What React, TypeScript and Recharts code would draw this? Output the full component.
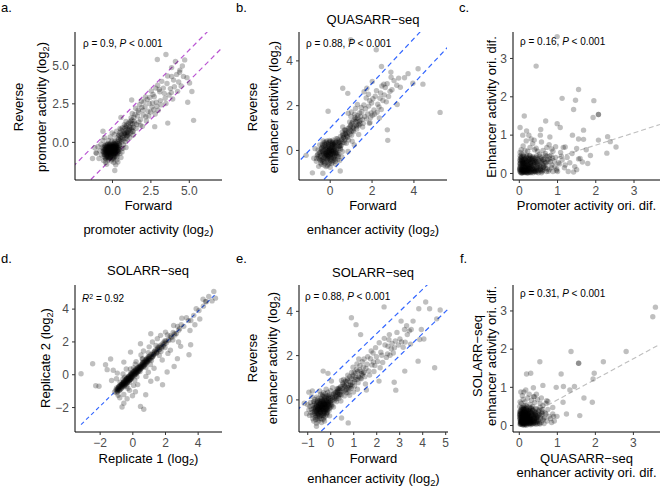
import React from 'react';
import { ScatterChart, Scatter, XAxis, YAxis, ReferenceLine } from 'recharts';

type Pt = [number, number];

// a. promoter activity, forward vs reverse (log2)
const promoterCore: Pt[] = [
  [-0.12,-0.45],[-0.31,-0.62],[0.05,-0.28],[-0.22,-0.81],[0.14,-0.51],[-0.41,-0.35],[0.02,-0.72],[-0.18,-0.15],[0.27,-0.33],[-0.35,-0.94],
  [-0.08,-0.58],[0.21,-0.12],[-0.27,-0.48],[0.09,-0.88],[-0.46,-0.66],[0.33,-0.55],[-0.15,-1.02],[0.11,-0.21],[-0.03,-0.39],[-0.52,-0.21],
  [0.18,-0.68],[-0.24,-0.29],[0.38,-0.08],[-0.06,-0.84],[-0.37,-0.53],[0.07,-0.05],[-0.19,-0.71],[0.25,-0.42],[-0.44,-1.08],[-0.01,-0.61],
  [0.15,-0.95],[-0.29,-0.08],[0.42,-0.31],[-0.11,-0.32],[-0.56,-0.78],[0.04,-0.47],[-0.21,-0.55],[0.31,-0.79],[-0.33,-0.25],[0.12,-0.36],
  [-0.05,-0.15],[-0.48,-0.44],[0.22,-0.24],[-0.14,-0.89],[0.36,-0.62],[-0.26,-1.15],[0.01,-0.98],[-0.39,-0.71],[0.17,0.04],[-0.09,-0.68],
  [0.47,-0.17],[-0.61,-0.58],[0.08,-0.63],[-0.17,-0.42],[0.29,-0.95],[-0.32,-0.41],[-0.02,-0.26],[0.19,-0.38],[-0.43,-0.12],[0.11,-0.77],
  [-0.23,-0.64],[0.34,-0.21],[-0.07,-1.21],[-0.54,-0.95],[0.23,-0.57],[-0.13,-0.05],[0.06,-1.11],[-0.36,-0.81],[0.41,-0.48],[-0.2,-0.33],
  [0.52,0.11],[-0.66,-0.31],[0.16,-0.16],[-0.1,-0.52],[0.28,-1.12],[-0.47,-0.61],[0.03,-0.35],[-0.28,-0.97],[0.13,0.15],[-0.16,-0.22],
  [0.58,-0.41],[-0.71,-0.82],[0.38,0.21],[-0.04,0.08],[0.24,-0.73],[-0.58,-1.18],[0.48,-0.72],[-0.25,0.12],[0.09,-1.31],[-0.82,-0.55],
  [-0.95,-0.28],[-1.05,-0.71],[0.66,0.32],[0.72,-0.15],[-0.62,0.14],[0.55,-0.98],[-0.38,-1.42],[0.21,-1.45],[-0.88,-1.05],[0.84,0.05],
  [0.44,0.46],[-0.15,0.35],[0.62,-0.62],[-0.75,-0.12],[0.76,0.58],[0.92,0.41],[0.35,-1.28],[-0.52,0.31],[0.12,0.51],[-1.15,-0.35],
  [0.68,-0.38],[-0.02,0.62],[0.88,-0.33],[-0.45,-1.31],[0.27,0.72],
  [-0.27,-0.68],[0.12,-0.24],[-0.41,-0.82],[0.03,-0.53],[-0.19,-0.39],[0.26,-0.19],[-0.53,-0.49],[-0.07,-0.71],[0.18,-0.44],[-0.34,-0.15],
  [0.08,-1.01],[-0.22,-0.58],[0.37,-0.38],[-0.46,-1.02],[-0.13,-0.27],[0.21,-0.82],[-0.38,-0.46],[0.01,-0.17],[-0.28,-0.88],[0.14,-0.62],
  [-0.04,-0.49],[-0.57,-0.64],[0.29,-0.51],[-0.16,-0.76],[-0.33,-0.34],[0.06,-0.31],[-0.24,-1.07],[0.43,-0.22],[-0.11,-0.93],[-0.45,-0.26],
  [0.17,-0.34],[-0.29,-0.52],[0.02,-0.83],[-0.2,-0.22],[0.32,-0.69],[-0.5,-0.81],[-0.09,-0.42],[0.24,-0.07],[-0.37,-0.67],[0.1,-0.55],
  [-0.15,-0.62],[-0.42,-0.19],[0.35,-0.45],[-0.03,-1.06],[-0.26,-0.32],[0.13,-0.09],[-0.6,-0.42],[0.04,-0.66],[-0.31,-0.74],[0.22,-0.63],
  [-0.12,-0.36],[-0.48,-0.53],[0.27,-0.28],[-0.18,-0.98],[0.07,-0.41],[-0.35,-0.58],[0.45,-0.04],[-0.06,-0.24],[-0.23,-0.47],[0.15,-0.74],
  [-0.4,-0.93],[0.0,-0.57],[-0.17,-0.13],[0.3,-0.36],[-0.55,-0.34],[-0.08,-0.79],[0.19,-0.52],[-0.3,-1.0],[0.11,-0.14],[-0.21,-0.69],
  [0.4,-0.6],[-0.44,-0.48],[-0.01,-0.3],[-0.25,-0.42],[0.09,-0.72],[-0.36,-0.29],[0.2,-0.29],[-0.1,-0.59],[-0.52,-0.7],[0.05,-0.46],
];
const promoterRise: Pt[] = [
  [0.52,0.31],[0.71,0.42],[0.63,0.75],[0.95,0.66],[0.44,0.12],[0.81,0.91],[1.12,1.02],[0.58,0.52],[0.99,0.85],[0.37,0.35],
  [1.23,0.82],[0.69,0.18],[0.86,0.55],[1.31,1.19],[0.48,0.64],[1.05,0.74],[0.77,1.15],[1.18,0.62],[0.61,0.03],[0.92,1.12],
  [1.37,0.99],[0.55,0.84],[0.83,0.26],[1.09,1.31],[0.42,0.47],[1.26,1.45],[0.74,0.68],[0.97,0.42],[0.65,0.95],[1.15,0.93],
  [0.33,0.05],[0.88,0.79],[1.41,1.38],[0.57,0.22],[1.02,0.55],[0.79,0.48],[1.2,1.21],[0.49,0.91],[0.9,0.99],[1.33,0.71],
];
const promoterBand: Pt[] = [
  [1.07,0.52],[0.83,1.04],[1.46,1.81],[2.31,2.02],[1.19,1.37],[0.94,0.21],[1.72,1.33],[2.64,3.11],[1.33,0.72],[2.05,2.63],
  [3.12,2.71],[1.58,1.16],[0.77,0.58],[2.48,1.97],[1.91,2.27],[3.55,3.82],[1.26,0.95],[2.89,2.34],[1.67,2.08],[4.03,3.61],
  [2.17,1.66],[1.02,1.21],[3.31,3.52],[1.83,1.49],[2.72,2.96],[1.39,1.62],[3.86,4.27],[2.26,2.79],[0.98,0.63],[3.04,3.43],
  [1.54,0.91],[2.57,2.29],[4.31,3.92],[1.13,0.31],[2.01,1.78],[3.68,3.07],[1.77,2.44],[2.94,3.71],[0.88,1.36],[2.39,2.52],
  [3.43,2.86],[1.62,1.71],[4.18,4.41],[2.12,2.31],[1.29,1.88],[3.21,3.96],[2.78,1.84],[1.95,1.04],[3.77,3.49],[2.53,3.34],
  [1.44,1.24],[4.47,3.66],[2.85,2.61],[1.09,0.86],[3.16,2.43],[2.21,1.39],[3.98,4.04],[1.71,1.95],[2.68,2.12],[3.59,4.31],
  [1.35,0.48],[2.43,2.91],[1.88,2.68],[3.37,3.18],[4.62,4.28],[2.98,2.08],[1.51,2.21],[3.83,3.23],[2.36,1.71],[4.24,3.31],
  [3.08,3.28],[2.15,2.95],[1.21,1.58],[3.48,2.52],[2.61,2.55],[1.81,1.12],[4.39,4.69],[2.82,3.52],[3.92,2.81],[1.98,2.09],
];
const promoterOutliers: Pt[] = [
  [5.28,1.43],[3.48,5.7],[4.37,4.55],[5.17,3.3],[2.92,5.38],[4.1,5.25],[4.55,4.95],[4.85,4.2],[5.02,3.85],[4.9,2.6],
  [3.6,1.25],[2.75,1.02],[1.25,2.75],[0.55,1.62],[-1.07,-0.67],[-1.3,-1.05],[0.15,-1.82],[-0.62,0.72],[4.7,5.35],[3.85,4.85],
];

// b. QUASARR-seq enhancer activity, forward vs reverse (log2)
const quasarrCore: Pt[] = [
  [-0.12,-0.08],[0.05,0.04],[-0.25,-0.21],[0.14,-0.12],[-0.06,0.18],[-0.31,0.05],[0.22,0.11],[-0.18,-0.35],[0.01,-0.22],[-0.38,-0.15],
  [0.11,0.27],[-0.09,-0.01],[0.28,-0.06],[-0.22,0.14],[-0.02,-0.41],[0.18,-0.28],[-0.44,-0.32],[0.07,0.15],[-0.15,0.31],[0.33,0.24],
  [-0.28,-0.48],[0.02,-0.11],[-0.11,-0.25],[0.24,-0.38],[-0.35,0.21],[0.09,0.38],[-0.05,-0.55],[0.38,0.06],[-0.19,0.02],[0.15,-0.02],
  [-0.48,-0.08],[-0.01,0.09],[0.26,0.35],[-0.32,-0.31],[0.12,-0.45],[-0.08,0.26],[0.41,-0.18],[-0.24,-0.12],[0.04,-0.31],[-0.41,0.1],
  [0.19,0.21],[-0.14,-0.44],[0.31,-0.25],[-0.03,0.04],[-0.53,-0.36],[0.08,-0.18],[-0.2,0.38],[0.45,0.29],[-0.1,-0.15],[0.21,0.02],
  [-0.36,-0.02],[0.13,0.46],[-0.27,0.29],[0.36,-0.41],[-0.07,-0.33],[0.52,0.41],[-0.45,-0.55],[0.06,-0.58],[-0.17,0.09],[0.27,0.16],
  [-0.58,0.02],[0.16,-0.33],[-0.04,0.45],[0.48,0.1],[-0.3,-0.65],[0.35,0.52],[-0.13,-0.68],[0.58,-0.05],[-0.62,-0.22],[0.03,0.28],
  [0.62,0.58],[-0.23,-0.26],[0.42,0.38],[-0.5,0.25],[0.1,-0.05],[-0.16,-0.18],[0.29,-0.15],[-0.39,-0.42],[0.2,0.32],[-0.06,-0.09],
  [0.68,0.34],[-0.66,-0.48],[0.55,-0.28],[-0.34,0.42],[0.25,-0.61],[-0.72,0.08],[0.71,0.72],[0.0,-0.75],[-0.55,-0.71],[0.45,-0.45],
  [-0.21,-0.15],[0.07,-0.02],[-0.33,-0.38],[0.16,0.08],[-0.04,-0.27],[-0.42,-0.05],[0.23,0.19],[-0.14,0.11],[0.03,-0.47],[-0.29,0.16],
  [0.12,-0.21],[-0.08,0.33],[0.31,0.07],[-0.47,-0.24],[-0.02,-0.06],[0.19,-0.39],[-0.26,-0.56],[0.09,0.21],[-0.17,-0.22],[0.37,0.33],
  [-0.37,0.28],[0.01,0.12],[-0.11,-0.38],[0.25,-0.12],[-0.52,-0.12],[0.14,0.36],[-0.23,0.05],[0.05,-0.14],[-0.32,-0.19],[0.42,0.18],
  [-0.07,-0.62],[0.21,-0.25],[-0.41,-0.45],[-0.12,0.19],[0.29,0.41],[-0.19,-0.1],[0.08,0.03],[-0.56,-0.28],[0.33,-0.09],[-0.03,0.38],
  [-0.25,-0.33],[0.17,0.27],[-0.44,0.06],[0.04,-0.36],[-0.15,-0.51],[0.26,-0.02],[-0.35,-0.08],[0.11,0.14],[-0.06,0.21],[0.39,-0.27],
  [-0.28,0.36],[0.0,-0.19],[-0.49,-0.42],[0.22,0.29],[-0.1,-0.29],[0.13,-0.52],[-0.38,0.15],[0.47,0.22],[-0.16,0.42],[0.06,-0.01],
  [-0.3,-0.12],[0.18,-0.08],[-0.6,-0.18],[0.28,0.52],[-0.2,-0.72],[0.1,0.31],[-0.43,-0.62],[0.35,-0.16],[-0.05,0.01],[-0.24,0.24],
  [0.15,-0.15],[-0.11,-0.04],[0.5,0.04],[-0.34,-0.52],[0.02,0.41],[-0.18,-0.06],[0.24,-0.48],[-0.65,-0.36],[0.4,0.46],[-0.09,-0.2],
];
const quasarrRise: Pt[] = [
  [0.45,0.38],[0.62,0.71],[0.53,0.22],[0.78,0.68],[0.91,1.02],[0.67,0.45],[1.08,0.89],[0.58,0.82],[1.21,1.28],[0.83,0.58],
  [0.99,1.15],[0.49,0.62],[1.34,1.16],[0.72,0.52],[1.15,1.37],[0.94,0.72],[0.61,0.35],[1.46,1.52],[0.86,0.98],[1.27,1.06],
  [0.55,0.49],[1.04,1.22],[0.76,0.88],[1.39,1.28],[0.68,0.92],[1.12,0.98],[0.89,0.81],[1.53,1.38],[0.47,0.18],[1.19,1.48],
  [0.81,0.77],[1.01,0.86],[0.64,0.58],[1.31,1.45],[0.95,0.92],[1.43,1.19],[0.73,0.78],[1.24,1.12],[0.59,0.67],[1.09,1.05],
];
const quasarrBand: Pt[] = [
  [0.81,0.62],[1.23,1.41],[0.96,1.08],[1.65,1.52],[1.12,0.84],[2.04,2.31],[1.38,1.12],[0.72,0.91],[1.84,1.98],[1.51,1.73],
  [2.27,2.06],[1.07,1.29],[2.63,2.81],[1.74,1.41],[0.88,0.47],[1.96,1.68],[2.41,2.57],[1.32,1.56],[2.86,2.64],[1.58,1.21],
  [2.15,2.42],[1.02,0.68],[1.89,2.22],[3.05,3.12],[1.43,1.34],[2.52,2.23],[1.17,1.62],[2.72,2.98],[1.69,1.86],[0.93,1.27],
  [2.33,1.94],[1.27,0.96],[3.18,2.91],[1.79,1.63],[2.09,1.81],[1.48,1.92],[2.95,2.71],[0.77,0.32],[2.58,2.48],[1.61,2.03],
  [2.21,2.67],[1.14,1.09],[3.27,3.23],[1.93,1.47],[2.47,2.88],[1.36,0.71],[2.79,2.41],[1.72,2.34],[2.02,1.57],[1.21,1.87],
  [3.35,2.82],[2.68,2.17],[1.55,1.05],[2.38,2.33],[0.99,1.52],[2.12,1.62],[1.83,2.51],[2.91,3.27],[1.41,1.67],[2.56,2.96],
  [1.05,0.41],[1.98,2.12],[2.24,1.71],[1.29,1.31],[1.87,1.21],[2.44,1.83],[1.62,2.62],[0.86,1.66],[2.01,3.08],[2.35,1.45],
];
const quasarrOutliers: Pt[] = [
  [5.25,1.7],[0.98,4.95],[2.2,4.5],[0.6,2.78],[0.84,2.55],[-0.1,1.75],[-0.85,-1.0],[2.73,0.92],[2.75,0.45],[3.72,3.43],
  [4.43,2.96],[3.95,3.0],[4.2,3.65],[3.55,3.25],[2.45,3.75],[-0.78,-0.35],[-1.15,-0.22],[0.48,-0.92],[3.2,2.05],[-0.35,-1.02],
  [1.02,1.72],[1.3,2.05],[0.6,1.05],[1.9,1.25],[1.15,0.25],[0.85,-0.05],[2.9,3.5],[1.75,2.78],
];

// c. orientation difference, promoter vs enhancer activity
const oriPromEnhCore: Pt[] = [
  [0.02,0.05],[0.08,0.12],[0.15,0.03],[0.04,0.21],[0.11,0.08],[0.21,0.15],[0.06,0.32],[0.18,0.06],[0.26,0.22],[0.03,0.41],
  [0.13,0.18],[0.32,0.04],[0.09,0.27],[0.24,0.09],[0.38,0.18],[0.01,0.14],[0.17,0.36],[0.29,0.11],[0.07,0.02],[0.44,0.08],
  [0.12,0.45],[0.22,0.28],[0.35,0.31],[0.05,0.09],[0.19,0.01],[0.48,0.24],[0.27,0.05],[0.1,0.19],[0.41,0.38],[0.03,0.28],
  [0.55,0.12],[0.16,0.24],[0.31,0.42],[0.23,0.14],[0.6,0.05],[0.08,0.36],[0.36,0.02],[0.14,0.1],[0.52,0.33],[0.2,0.48],
  [0.65,0.2],[0.02,0.18],[0.28,0.3],[0.46,0.15],[0.11,0.04],[0.7,0.28],[0.33,0.21],[0.06,0.5],[0.58,0.41],[0.25,0.38],
  [0.78,0.1],[0.15,0.15],[0.4,0.05],[0.09,0.06],[0.63,0.36],[0.3,0.26],[0.85,0.22],[0.18,0.42],[0.5,0.02],[0.04,0.38],
  [0.72,0.45],[0.37,0.12],[0.92,0.31],[0.13,0.31],[0.56,0.18],[0.21,0.07],[0.98,0.12],[0.43,0.29],[0.8,0.38],[0.27,0.47],
  [1.05,0.25],[0.62,0.08],[0.17,0.2],[0.88,0.05],[0.34,0.35],[1.12,0.35],[0.07,0.44],[0.68,0.14],[0.45,0.46],[0.95,0.42],
  [0.24,0.02],[1.18,0.15],[0.75,0.32],[0.01,0.35],[0.53,0.5],[0.12,0.26],[0.39,0.09],[1.0,0.05],[0.29,0.17],[0.83,0.48],
  [0.04,0.07],[0.14,0.23],[0.27,0.13],[0.09,0.31],[0.36,0.08],[0.19,0.19],[0.51,0.15],[0.06,0.42],[0.31,0.35],[0.44,0.03],
  [0.12,0.1],[0.23,0.4],[0.62,0.25],[0.02,0.26],[0.39,0.22],[0.17,0.03],[0.73,0.12],[0.28,0.46],[0.08,0.16],[0.49,0.37],
  [0.21,0.24],[0.57,0.07],[0.11,0.35],[0.34,0.15],[0.81,0.3],[0.05,0.01],[0.42,0.42],[0.25,0.07],[0.66,0.4],[0.15,0.28],
  [0.3,0.02],[0.93,0.18],[0.07,0.22],[0.47,0.1],[0.2,0.33],[0.59,0.31],[0.13,0.05],[0.37,0.28],[0.76,0.06],[0.01,0.09],
  [0.26,0.18],[0.54,0.45],[0.1,0.48],[0.41,0.14],[0.87,0.4],[0.18,0.11],[0.33,0.39],[0.64,0.17],[0.03,0.33],[0.22,0.02],
  [0.46,0.27],[0.7,0.22],[0.14,0.38],[0.29,0.25],[1.02,0.28],[0.08,0.04],[0.52,0.2],[0.24,0.3],[0.79,0.45],[0.16,0.15],
  [0.38,0.05],[0.6,0.35],[0.06,0.12],[0.43,0.33],[0.97,0.08],[0.12,0.02],[0.31,0.09],[0.68,0.47],[0.19,0.45],[0.55,0.1],
  [0.35,0.44],[0.84,0.15],[0.02,0.46],[0.27,0.36],[0.48,0.05],[0.74,0.36],[0.1,0.24],[1.1,0.45],[0.4,0.3],[0.23,0.12],
  [0.05,0.11],[0.18,0.08],[0.31,0.19],[0.1,0.29],[0.42,0.06],[0.24,0.34],[0.07,0.02],[0.53,0.23],[0.15,0.17],[0.36,0.4],
  [0.02,0.24],[0.27,0.03],[0.61,0.11],[0.12,0.37],[0.45,0.31],[0.21,0.1],[0.04,0.16],[0.34,0.12],[0.67,0.3],[0.17,0.28],
  [0.29,0.39],[0.09,0.09],[0.48,0.18],[0.23,0.21],[0.58,0.02],[0.13,0.13],[0.4,0.26],[0.06,0.35],[0.32,0.06],[0.19,0.32],
  [0.55,0.38],[0.26,0.14],[0.03,0.03],[0.44,0.12],[0.11,0.21],[0.38,0.34],[0.63,0.16],[0.2,0.04],[0.08,0.27],[0.3,0.29],
  [0.5,0.08],[0.16,0.39],[0.35,0.2],[0.01,0.11],[0.25,0.26],[0.71,0.05],[0.14,0.06],[0.46,0.4],[0.22,0.16],[0.57,0.28],
];
const oriPromEnhSpread: Pt[] = [
  [0.05,0.62],[0.22,0.58],[0.44,0.66],[0.1,0.72],[0.35,0.78],[0.62,0.6],[0.85,0.64],[1.25,0.42],[1.32,0.28],[1.45,0.18],
  [0.18,0.85],[0.58,0.82],[0.95,0.7],[1.38,0.52],[1.28,0.05],[0.48,0.58],[0.72,0.68],[1.08,0.55],[1.55,0.38],[0.28,0.68],
  [0.02,0.55],[0.68,0.52],[1.15,0.68],[0.88,0.58],[1.5,0.1],[0.15,0.6],[0.4,0.62],[1.2,0.22],[0.78,0.75],[1.65,0.3],
  [0.44,2.8],[1.55,2.19],[1.12,1.96],[1.47,1.91],[1.95,1.9],[1.42,1.67],[2.07,1.54],[2.07,1.54],[1.93,1.46],[0.13,1.5],
  [0.02,1.2],[0.69,1.37],[0.99,1.3],[1.07,1.2],[0.56,1.15],[0.19,1.11],[0.09,1.0],[1.68,1.13],[1.68,0.89],[2.31,0.96],
  [2.07,0.87],[2.38,0.83],[2.53,0.69],[2.29,0.53],[1.86,0.47],[1.39,1.0],[1.55,0.9],[0.31,0.9],[0.39,0.87],[1.2,0.69],
  [1.5,0.65],[1.79,0.26],[1.59,0.39],[1.42,0.04],[0.99,3.57],[0.55,1.0],[0.8,0.95],[1.75,0.62],[0.25,1.0],
];

// d. SOLARR-seq replicate 1 vs replicate 2 (log2)
const replicateBand: Pt[] = [
  [-0.83,-0.71],[0.42,0.51],[-0.21,-0.34],[1.17,1.05],[-0.56,-0.44],[0.13,0.28],[0.78,0.66],[-0.95,-1.02],[0.31,0.19],[-0.38,-0.22],
  [1.52,1.61],[-0.07,-0.15],[0.64,0.77],[-0.71,-0.83],[0.96,0.88],[-0.29,-0.11],[0.22,0.06],[1.84,1.72],[-0.49,-0.62],[0.55,0.48],
  [-0.14,0.02],[1.33,1.42],[-0.62,-0.51],[0.07,-0.04],[0.87,1.01],[-0.33,-0.47],[2.21,2.09],[-0.88,-0.76],[0.38,0.52],[-0.02,0.11],
  [1.06,0.92],[-0.45,-0.31],[0.71,0.6],[-0.18,-0.29],[1.68,1.79],[0.17,0.26],[-0.76,-0.9],[0.49,0.36],[-0.25,-0.14],[2.58,2.42],
  [0.03,0.18],[1.24,1.12],[-0.53,-0.68],[0.82,0.91],[-0.11,-0.24],[0.59,0.71],[-0.67,-0.58],[1.45,1.31],[0.27,0.14],[-0.4,-0.27],
  [1.97,2.07],[-0.92,-0.84],[0.45,0.34],[-0.06,0.07],[1.11,1.24],[-0.59,-0.72],[0.75,0.65],[-0.23,-0.09],[2.39,2.28],[0.11,-0.02],
  [-0.81,-0.95],[0.93,1.06],[-0.36,-0.5],[1.59,1.49],[0.34,0.45],[-0.16,-0.04],[0.68,0.55],[-1.04,-0.93],[1.29,1.37],[-0.47,-0.36],
  [0.2,0.33],[2.81,2.71],[-0.72,-0.61],[0.52,0.41],[-0.3,-0.41],[1.01,0.94],[0.06,0.16],[-0.58,-0.47],[1.76,1.63],[0.86,0.74],
  [-0.13,-0.26],[0.4,0.27],[-0.86,-0.72],[1.38,1.5],[-0.43,-0.55],[0.62,0.74],[-0.02,-0.11],[2.05,1.93],[-0.65,-0.79],[0.29,0.41],
  [1.2,1.09],[-0.27,-0.16],[0.79,0.9],[-1.12,-1.05],[0.15,0.03],[1.9,1.98],[-0.51,-0.39],[0.47,0.6],[-0.19,-0.31],[3.12,2.95],
  [0.98,1.1],[-0.79,-0.66],[0.24,0.13],[1.63,1.54],[-0.35,-0.24],[0.57,0.45],[-0.09,0.05],[2.47,2.58],[-0.61,-0.55],[0.72,0.82],
  [1.47,1.36],[-0.97,-1.1],[0.36,0.22],[-0.44,-0.57],[1.03,1.15],[0.09,0.22],[3.41,3.3],[-0.7,-0.59],[0.85,0.77],[-0.24,-0.38],
  [2.67,2.52],[0.5,0.55],[-0.55,-0.49],[1.27,1.2],[-0.04,-0.18],[3.73,3.62],[0.66,0.51],[-0.83,-0.95],[1.8,1.88],[0.18,0.35],
  [-0.34,-0.21],[2.96,3.05],[0.9,0.79],[-0.12,0.12],[4.05,3.92],[0.33,0.38],[-0.64,-0.68],[1.55,1.7],[-1.0,-0.8],[2.29,2.38],
  [0.44,0.2],[-0.2,-0.47],[1.14,0.87],[0.61,0.95],[-0.5,-0.15],[1.72,1.42],[0.05,0.42],[2.12,2.43],[-0.78,-0.45],[3.28,3.48],
  [0.8,0.44],[-0.38,-0.7],[1.42,1.78],[0.25,-0.12],[4.32,4.18],[-0.9,-1.25],[2.74,2.95],[1.97,1.66],[0.58,0.98],[3.55,3.31],
  [-0.15,0.35],[1.08,0.62],[-0.6,-0.25],[2.45,2.12],[0.12,-0.35],[3.88,4.02],[0.95,1.35],[-0.3,-0.82],[1.62,1.18],[4.5,4.45],
  [-0.68,-0.62],[0.35,0.29],[-0.32,-0.36],[1.05,1.01],[-0.15,-0.2],[0.72,0.75],[-0.88,-0.85],[0.19,0.22],[1.44,1.4],[-0.52,-0.56],
  [0.58,0.62],[-0.04,0.0],[1.21,1.26],[-0.74,-0.7],[0.84,0.82],[-0.26,-0.22],[1.88,1.82],[0.08,0.04],[-0.44,-0.41],[0.46,0.43],
  [1.62,1.66],[-0.96,-0.9],[0.29,0.32],[-0.1,-0.14],[0.97,0.99],[2.18,2.14],[-0.6,-0.63],[0.65,0.61],[-0.37,-0.33],[1.32,1.29],
  [0.13,0.09],[-0.81,-0.79],[0.91,0.94],[2.55,2.5],[-0.21,-0.18],[0.52,0.49],[1.75,1.71],[-0.48,-0.52],[0.01,0.05],[1.13,1.11],
  [-0.7,-0.74],[0.39,0.41],[2.02,2.05],[-0.07,-0.09],[0.78,0.76],[1.5,1.53],[-0.56,-0.52],[0.23,0.19],[2.86,2.81],[-0.3,-0.27],
  [0.62,0.66],[1.27,1.23],[-0.9,-0.94],[0.16,0.14],[1.95,1.9],[-0.4,-0.44],[0.88,0.86],[2.35,2.31],[-0.12,-0.16],[0.45,0.49],
];
const replicateSpread: Pt[] = [
  [-0.4,0.35],[-0.6,0.05],[0.2,0.8],[0.5,1.2],[1.0,1.7],[1.5,2.2],[2.0,2.6],[2.5,3.0],[3.0,3.45],[0.3,-0.6],
  [0.8,-0.1],[1.3,0.4],[1.8,0.9],[2.3,1.5],[2.8,2.0],[3.5,2.7],[-0.8,-1.4],[-0.2,-0.95],[-1.3,-0.35],[-0.95,0.1],
  [0.65,1.45],[1.2,2.0],[3.8,3.05],[4.1,3.4],[-0.55,-1.2],[0.05,-0.65],[2.15,1.3],[1.7,2.4],[0.95,0.15],[0.15,0.65],
  [-3.17,0.06],[-2.46,0.67],[-2.27,-0.67],[-2.07,-0.7],[-1.67,0.61],[-1.57,0.31],[-1.36,0.96],[-1.2,0.27],[-0.66,-1.97],[-0.55,-1.73],
  [0.47,-1.93],[0.67,-2.1],[-0.02,-1.28],[0.79,-1.22],[1.1,-0.4],[1.82,-0.61],[2.53,0.5],[2.93,1.73],[3.44,1.22],[3.54,1.83],
  [4.96,5.08],[5.06,4.67],[4.65,4.77],[4.45,4.47],[1.1,2.5],[0.47,1.89],[-0.14,1.38],[-0.55,0.77],[-1.0,-0.24],[-0.96,-0.95],
  [-0.35,-1.46],[0.16,-1.04],[1.49,-0.24],[2.1,0.17],[2.73,0.98],[4.85,4.5],[4.3,4.6],
];

// e. SOLARR-seq enhancer activity, forward vs reverse (log2)
const solarrCore: Pt[] = [
  [-0.42,-0.38],[-0.28,-0.21],[-0.51,-0.45],[-0.35,-0.12],[-0.19,-0.31],[-0.6,-0.28],[-0.45,-0.55],[-0.3,-0.41],[-0.22,-0.05],[-0.55,-0.62],
  [-0.38,-0.25],[-0.12,-0.18],[-0.48,-0.15],[-0.33,-0.58],[-0.65,-0.48],[-0.25,-0.35],[-0.4,0.02],[-0.15,-0.45],[-0.58,-0.05],[-0.31,-0.28],
  [-0.7,-0.62],[-0.2,-0.12],[-0.46,-0.72],[-0.08,-0.02],[-0.52,-0.32],[-0.36,-0.48],[-0.27,0.08],[-0.62,-0.18],[-0.17,-0.58],[-0.43,-0.08],
  [-0.05,-0.25],[-0.75,-0.4],[-0.32,-0.7],[-0.24,-0.22],[-0.56,0.05],[-0.1,0.12],[-0.47,-0.35],[-0.68,-0.78],[-0.29,-0.15],[-0.39,-0.62],
  [-0.02,0.05],[-0.53,-0.22],[-0.18,0.15],[-0.63,-0.55],[-0.34,-0.02],[-0.8,-0.25],[-0.14,-0.32],[-0.44,-0.45],[-0.26,-0.52],[-0.57,-0.68],
  [0.02,-0.12],[-0.37,0.18],[-0.72,-0.08],[-0.21,-0.42],[-0.5,-0.85],[0.06,0.22],[-0.41,-0.18],[-0.85,-0.58],[-0.11,-0.08],[-0.3,-0.82],
  [0.1,0.02],[-0.61,0.12],[-0.23,0.28],[-0.49,-0.52],[-0.07,-0.48],[-0.78,-0.85],[0.14,0.3],[-0.36,-0.35],[-0.16,-0.68],[-0.66,-0.32],
  [0.18,0.08],[-0.44,0.25],[-0.88,-0.12],[-0.02,-0.35],[-0.54,-0.95],[0.22,0.35],[-0.27,-0.95],[-0.69,0.02],[0.05,-0.22],[-0.92,-0.7],
  [0.26,0.15],[-0.13,0.35],[-0.58,-0.4],[-0.32,0.32],[0.0,0.42],[-0.74,-0.95],[0.3,0.48],[-0.4,-1.02],[-0.95,-0.45],[0.12,-0.32],
  [-0.2,0.48],[0.35,0.25],[-0.62,-1.05],[0.08,0.55],[-0.82,0.15],[0.4,0.55],[-0.05,-0.72],[-1.0,-0.22],[0.25,-0.08],[-0.48,0.4],
  [-0.47,-0.42],[-0.23,-0.18],[-0.61,-0.51],[-0.38,-0.35],[-0.14,-0.12],[-0.52,-0.26],[-0.29,-0.62],[-0.44,-0.16],[-0.2,-0.38],[-0.67,-0.71],
  [-0.33,-0.08],[-0.09,-0.28],[-0.56,-0.58],[-0.41,-0.29],[-0.26,-0.45],[-0.72,-0.35],[-0.17,0.05],[-0.49,-0.75],[-0.35,-0.22],[-0.04,-0.11],
  [-0.59,-0.12],[-0.31,-0.52],[-0.46,-0.02],[-0.21,-0.25],[-0.77,-0.55],[-0.12,-0.42],[-0.39,-0.68],[-0.55,-0.38],[-0.27,0.01],[-0.64,-0.25],
  [-0.02,-0.05],[-0.43,-0.55],[-0.18,-0.22],[-0.5,-0.18],[-0.34,-0.45],[-0.69,-0.45],[-0.08,0.08],[-0.28,-0.31],[-0.53,-0.65],[-0.37,-0.05],
  [-0.15,-0.55],[-0.62,-0.62],[-0.24,0.12],[-0.45,-0.32],[0.03,-0.02],[-0.71,-0.18],[-0.32,-0.38],[-0.57,-0.85],[-0.11,-0.15],[-0.4,-0.42],
  [-0.25,-0.75],[-0.48,-0.05],[0.07,0.12],[-0.66,-0.38],[-0.19,-0.08],[-0.36,-0.25],[-0.8,-0.68],[-0.06,-0.38],[-0.42,-0.85],[-0.3,0.15],
  [-0.58,-0.45],[-0.13,0.2],[-0.5,-0.52],[-0.22,-0.48],[-0.75,-0.08],[0.0,-0.18],[-0.37,-0.72],[-0.6,-0.32],[-0.16,-0.35],[-0.44,-0.25],
  [-0.28,-0.15],[-0.84,-0.42],[-0.07,0.22],[-0.54,-0.12],[-0.33,-0.88],[-0.2,-0.02],[-0.65,-0.88],[0.05,-0.28],[-0.41,0.08],[-0.26,-0.58],
  [-0.47,-0.62],[-0.12,-0.22],[-0.7,-0.52],[-0.35,0.22],[-0.18,-0.62],[-0.52,-0.42],[-0.03,0.15],[-0.6,-0.75],[-0.31,-0.18],[-0.9,-0.3],
];
const solarrRise: Pt[] = [
  [0.15,0.12],[0.32,0.42],[0.24,0.05],[0.48,0.41],[0.38,0.22],[0.61,0.62],[0.29,0.28],[0.72,0.55],[0.44,0.61],[0.85,0.82],
  [0.2,0.32],[0.55,0.38],[0.95,0.78],[0.36,0.08],[0.67,0.72],[1.08,1.02],[0.51,0.52],[0.79,0.65],[1.2,1.05],[0.26,0.38],
  [0.63,0.41],[1.32,1.28],[0.42,0.35],[0.89,0.95],[0.18,-0.02],[0.74,0.88],[1.14,0.92],[0.58,0.65],[1.45,1.25],[0.33,0.15],
  [0.97,1.12],[0.46,0.22],[0.81,0.55],[1.26,1.35],[0.69,0.48],[0.12,0.25],[1.04,0.82],[0.53,0.78],[0.87,0.68],[1.38,1.12],
  [0.28,0.52],[0.76,0.32],[1.17,1.28],[0.4,0.48],[0.92,0.62],[0.64,0.85],[1.02,1.25],[0.22,0.18],[0.83,1.05],[1.29,0.98],
];
const solarrBand: Pt[] = [
  [0.41,0.25],[0.86,0.68],[0.53,0.71],[1.24,1.02],[0.67,0.32],[1.58,1.61],[0.95,1.05],[1.92,1.55],[0.35,0.52],[1.41,1.22],
  [2.18,2.15],[0.78,0.45],[1.12,1.38],[2.47,2.08],[0.59,0.18],[1.73,1.86],[1.03,0.62],[2.81,2.66],[1.33,0.95],[0.47,0.88],
  [2.04,1.74],[1.65,1.31],[0.91,1.24],[2.36,2.48],[1.19,0.78],[3.08,2.62],[0.72,0.95],[1.84,2.12],[1.48,1.05],[2.63,2.31],
  [0.99,0.36],[2.26,1.69],[1.37,1.72],[3.33,2.95],[0.63,0.58],[1.95,2.36],[1.09,1.21],[2.72,2.12],[1.53,1.42],[0.82,0.21],
  [2.11,2.58],[1.27,1.55],[3.15,2.38],[1.69,1.12],[0.56,0.92],[2.53,2.72],[1.79,1.58],[2.94,2.48],[1.16,0.48],[2.42,1.92],
  [0.74,1.12],[1.88,1.28],[1.45,1.85],[3.42,3.12],[0.88,0.52],[2.22,2.02],[1.61,1.95],[2.67,2.55],[1.06,0.92],[3.01,2.75],
  [0.44,-0.05],[1.34,1.18],[2.15,1.45],[1.76,2.21],[2.58,2.02],[0.97,1.48],[3.24,2.61],[1.22,1.85],[2.88,3.05],[1.99,1.95],
  [0.69,0.82],[1.51,0.72],[2.33,2.78],[1.14,1.62],[2.77,2.35],[1.86,1.71],[0.31,0.35],[1.42,1.48],[3.47,2.52],[2.49,2.42],
];
const solarrOutliers: Pt[] = [
  [4.52,1.45],[2.32,4.2],[4.13,4.42],[4.3,4.12],[3.83,4.12],[4.61,3.66],[4.76,4.06],[0.9,3.71],[1.1,3.4],[1.3,2.95],
  [2.83,0.44],[2.76,0.8],[3.22,1.3],[3.8,1.75],[0.03,0.85],[-0.33,1.3],[-0.12,1.2],[-0.8,0.4],[-0.62,-1.19],[0.47,-0.82],
  [0.76,-1.04],[3.87,2.73],[3.94,3.18],[3.5,3.18],[3.58,3.56],[3.21,3.18],[3.06,3.56],[3.3,3.35],[2.55,2.95],[-1.05,-0.62],
  [-1.15,-0.15],[-0.95,0.35],[1.55,0.45],[2.1,0.85],[4.05,2.75],
];

// f. orientation difference, QUASARR-seq vs SOLARR-seq
const oriSolQuaCore: Pt[] = [
  [0.02,0.04],[0.06,0.11],[0.1,0.02],[0.04,0.19],[0.13,0.08],[0.08,0.25],[0.17,0.14],[0.03,0.32],[0.21,0.05],[0.12,0.2],
  [0.25,0.18],[0.07,0.06],[0.15,0.35],[0.29,0.09],[0.05,0.42],[0.19,0.26],[0.33,0.15],[0.11,0.13],[0.01,0.22],[0.23,0.31],
  [0.37,0.05],[0.09,0.38],[0.27,0.24],[0.14,0.01],[0.41,0.19],[0.18,0.44],[0.31,0.34],[0.06,0.16],[0.45,0.1],[0.22,0.12],
  [0.03,0.09],[0.35,0.28],[0.12,0.29],[0.49,0.22],[0.26,0.41],[0.16,0.07],[0.4,0.36],[0.08,0.48],[0.53,0.06],[0.2,0.21],
  [0.3,0.02],[0.57,0.26],[0.1,0.33],[0.43,0.45],[0.24,0.06],[0.05,0.27],[0.62,0.14],[0.34,0.09],[0.15,0.24],[0.47,0.31],
  [0.28,0.16],[0.02,0.36],[0.66,0.2],[0.19,0.36],[0.38,0.22],[0.11,0.05],[0.52,0.4],[0.07,0.21],[0.32,0.46],[0.58,0.08],
  [0.23,0.27],[0.14,0.42],[0.44,0.03],[0.04,0.13],[0.7,0.3],[0.27,0.33],[0.17,0.19],[0.5,0.15],[0.36,0.4],[0.09,0.1],
  [0.61,0.36],[0.21,0.49],[0.42,0.27],[0.13,0.16],[0.73,0.12],[0.01,0.5],[0.29,0.2],[0.55,0.48],[0.18,0.03],[0.39,0.12],
  [0.06,0.3],[0.65,0.05],[0.25,0.38],[0.46,0.18],[0.11,0.45],[0.33,0.26],[0.78,0.24],[0.2,0.1],[0.04,0.05],[0.53,0.29],
  [0.16,0.3],[0.35,0.5],[0.08,0.15],[0.6,0.42],[0.3,0.07],[0.12,0.52],[0.48,0.05],[0.24,0.23],[0.02,0.28],[0.68,0.33],
  [0.03,0.08],[0.09,0.18],[0.16,0.1],[0.05,0.31],[0.22,0.22],[0.12,0.04],[0.28,0.13],[0.07,0.4],[0.19,0.3],[0.34,0.04],
  [0.01,0.16],[0.25,0.35],[0.14,0.24],[0.4,0.14],[0.08,0.02],[0.31,0.27],[0.18,0.46],[0.45,0.25],[0.04,0.24],[0.23,0.08],
  [0.11,0.34],[0.36,0.19],[0.15,0.14],[0.51,0.11],[0.06,0.46],[0.29,0.41],[0.2,0.17],[0.42,0.35],[0.1,0.09],[0.26,0.03],
  [0.02,0.38],[0.37,0.31],[0.13,0.28],[0.56,0.2],[0.21,0.38],[0.07,0.12],[0.32,0.1],[0.47,0.43],[0.17,0.06],[0.24,0.27],
  [0.05,0.2],[0.39,0.07],[0.12,0.42],[0.3,0.22],[0.6,0.3],[0.19,0.01],[0.09,0.26],[0.43,0.28],[0.27,0.47],[0.14,0.19],
  [0.35,0.38],[0.03,0.03],[0.22,0.13],[0.5,0.37],[0.16,0.33],[0.08,0.35],[0.33,0.16],[0.41,0.05],[0.25,0.21],[0.11,0.07],
  [0.54,0.04],[0.2,0.43],[0.04,0.12],[0.38,0.25],[0.13,0.48],[0.29,0.06],[0.46,0.15],[0.18,0.24],[0.01,0.31],[0.63,0.18],
  [0.23,0.32],[0.1,0.15],[0.31,0.45],[0.48,0.23],[0.15,0.03],[0.36,0.11],[0.06,0.27],[0.27,0.15],[0.58,0.34],[0.12,0.36],
  [0.04,0.1],[0.12,0.22],[0.2,0.08],[0.07,0.33],[0.27,0.19],[0.15,0.05],[0.33,0.3],[0.02,0.2],[0.23,0.39],[0.1,0.12],
  [0.38,0.09],[0.17,0.27],[0.05,0.04],[0.29,0.12],[0.13,0.41],[0.44,0.2],[0.21,0.25],[0.08,0.17],[0.35,0.42],[0.18,0.11],
  [0.01,0.27],[0.26,0.06],[0.41,0.32],[0.11,0.3],[0.31,0.17],[0.06,0.09],[0.22,0.33],[0.47,0.12],[0.15,0.2],[0.36,0.25],
  [0.03,0.36],[0.19,0.14],[0.28,0.37],[0.09,0.05],[0.4,0.18],[0.14,0.34],[0.25,0.1],[0.05,0.15],[0.32,0.05],[0.2,0.29],
  [0.5,0.27],[0.1,0.43],[0.24,0.16],[0.37,0.14],[0.07,0.24],[0.16,0.38],[0.43,0.08],[0.3,0.33],[0.12,0.08],[0.21,0.21],
];
const oriSolQuaSpread: Pt[] = [
  [0.05,0.58],[0.15,0.62],[0.28,0.55],[0.1,0.68],[0.4,0.6],[0.22,0.72],[0.55,0.58],[0.08,0.78],[0.32,0.66],[0.48,0.68],
  [0.18,0.52],[0.62,0.52],[0.82,0.18],[0.75,0.42],[0.88,0.3],[0.7,0.58],[0.02,0.62],[0.38,0.75],[0.12,0.88],[0.58,0.72],
  [0.85,0.08],[0.26,0.82],[0.45,0.82],[0.72,0.65],[0.92,0.12],
  [3.58,3.1],[3.51,2.85],[2.81,1.94],[1.36,1.94],[1.56,1.63],[1.56,1.63],[0.54,1.67],[2.21,1.67],[1.97,1.37],[1.94,1.22],
  [1.1,1.35],[0.19,1.35],[0.3,1.37],[0.62,1.05],[0.97,1.0],[1.16,1.02],[1.45,1.02],[1.33,0.93],[1.7,0.72],[1.92,0.61],
  [1.59,0.26],[1.24,0.3],[1.15,0.61],[0.75,0.63],[0.88,0.47],[0.9,0.24],[0.99,0.24],[0.39,0.76],[0.04,0.88],[0.17,0.93],
  [0.37,0.99],
];

// axis ticks
const ticksA = [0, 2.5, 5];
const ticksB = [0, 2, 4];
const ticksOri = [0, 1, 2, 3];
const ticksD = [-2, 0, 2, 4];
const ticksEx = [-1, 0, 1, 2, 3, 4, 5];
const ticksEy = [0, 2, 4];

// reference / fitted lines: [intercept, slope, xFrom, xTo]
const diagOffsets = [1, -1];
const fitD: [number, number, number, number] = [0.02, 0.965, -3.17, 5.06];
const fitC: [number, number, number, number] = [0.1, 0.32, 0, 3.7];
const fitF: [number, number, number, number] = [0.13, 0.54, 0, 3.7];

const FONT = '"Liberation Sans", Arial, Helvetica, sans-serif';
const PURPLE = '#BA55D3';
const BLUE = '#3366FF';
const GREY = '#BEBEBE';

type Line = { a: number; b: number; x0: number; x1: number; color: string; dash: string; w: number };

const minus = (s: string) => s.replace('-', '\u2212');

const dot = (p: any) => <circle cx={p.cx} cy={p.cy} r={2.7} fill="#000" fillOpacity={0.25} />;

function Panel({ box, xDomain, yDomain, xTicks, yTicks, fixed, points, lines }: {
  box: [number, number, number, number];
  xDomain: [number, number];
  yDomain: [number, number];
  xTicks: number[];
  yTicks: number[];
  fixed?: boolean;
  points: Pt[];
  lines: Line[];
}) {
  const [l, t, r, b] = box;
  const data = points.map(([x, y]) => ({ x, y }));
  const fmt = (v: number) => minus(fixed ? v.toFixed(1) : String(v));
  const tick = { fill: '#4D4D4D', fontSize: 12, fontFamily: FONT };
  return (
    <div style={{ position: 'absolute', left: l - 40, top: t - 10 }}>
      <ScatterChart width={r - l + 50} height={b - t + 40} margin={{ top: 10, right: 10, bottom: 0, left: 0 }}>
        <XAxis type="number" dataKey="x" domain={xDomain} allowDataOverflow ticks={xTicks} interval={0}
          height={30} tickSize={3} tickMargin={3} axisLine={{ stroke: '#000' }} tickLine={{ stroke: '#333' }}
          tick={tick} tickFormatter={fmt} />
        <YAxis type="number" dataKey="y" domain={yDomain} allowDataOverflow ticks={yTicks} interval={0}
          width={40} tickSize={3} tickMargin={3} axisLine={{ stroke: '#000' }} tickLine={{ stroke: '#333' }}
          tick={tick} tickFormatter={fmt} />
        <Scatter data={data} shape={dot} isAnimationActive={false} />
        {lines.map((ln, i) => (
          <ReferenceLine key={i} ifOverflow="hidden" stroke={ln.color} strokeWidth={ln.w} strokeDasharray={ln.dash}
            segment={[{ x: ln.x0, y: ln.a + ln.b * ln.x0 }, { x: ln.x1, y: ln.a + ln.b * ln.x1 }]} />
        ))}
      </ScatterChart>
    </div>
  );
}

function T({ x, y, children, size = 13, rot = false, left = false, color = '#000' }: {
  x: number; y: number; children: React.ReactNode; size?: number; rot?: boolean; left?: boolean; color?: string;
}) {
  return (
    <div style={{
      position: 'absolute', left: x, top: y, whiteSpace: 'nowrap', fontSize: size, lineHeight: 1, color,
      fontFamily: FONT, transform: `translate(${left ? '0' : '-50%'},-50%)${rot ? ' rotate(-90deg)' : ''}`,
    }}>{children}</div>
  );
}

const Sub = ({ c }: { c: string }) => <span style={{ fontSize: '0.72em', position: 'relative', top: '0.3em' }}>{c}</span>;
const Log2 = () => <>(log<Sub c="2" />)</>;
const Stat = ({ r }: { r: string }) => <>ρ = {r}, <i>P</i> &lt; 0.001</>;

const abl = (offs: number[], color: string): Line[] =>
  offs.map((o) => ({ a: o, b: 1, x0: -10, x1: 10, color, dash: '5 3.5', w: 1.2 }));
const fit = (f: [number, number, number, number], color: string, dash: string): Line =>
  ({ a: f[0], b: f[1], x0: f[2], x1: f[3], color, dash, w: 1.1 });

export default function App() {
  return (
    <div style={{ position: 'absolute', left: 0, top: 0, width: 660, height: 487, overflow: 'hidden', background: '#fff', fontFamily: FONT }}>
      <Panel box={[75, 32, 222, 180]} xDomain={[-2.44, 7.13]} yDomain={[-2.44, 7.16]} xTicks={ticksA} yTicks={ticksA} fixed
        points={[...promoterCore, ...promoterRise, ...promoterBand, ...promoterOutliers]} lines={abl(diagOffsets, PURPLE)} />
      <Panel box={[299, 32, 447, 180]} xDomain={[-1.49, 5.58]} yDomain={[-1.32, 5.29]} xTicks={ticksB} yTicks={ticksB}
        points={[...quasarrCore, ...quasarrRise, ...quasarrBand, ...quasarrOutliers]} lines={abl(diagOffsets, BLUE)} />
      <Panel box={[513, 32, 660, 180]} xDomain={[-0.165, 3.68]} yDomain={[-0.17, 3.69]} xTicks={ticksOri} yTicks={ticksOri}
        points={[...oriPromEnhCore, ...oriPromEnhSpread]} lines={[fit(fitC, GREY, '5 3')]} />
      <Panel box={[75, 285, 222, 432]} xDomain={[-3.54, 5.46]} yDomain={[-3.49, 5.47]} xTicks={ticksD} yTicks={ticksD}
        points={[...replicateBand, ...replicateSpread]} lines={[fit(fitD, BLUE, '4 3')]} />
      <Panel box={[299, 285, 448, 432]} xDomain={[-1.38, 5.1]} yDomain={[-1.45, 5.19]} xTicks={ticksEx} yTicks={ticksEy}
        points={[...solarrCore, ...solarrRise, ...solarrBand, ...solarrOutliers]} lines={abl(diagOffsets, BLUE)} />
      <Panel box={[513, 285, 660, 432]} xDomain={[-0.166, 3.7]} yDomain={[-0.17, 3.68]} xTicks={ticksOri} yTicks={ticksOri}
        points={[...oriSolQuaCore, ...oriSolQuaSpread]} lines={[fit(fitF, GREY, '5 3')]} />

      {/* panel letters */}
      <T x={1} y={7} left>a.</T>
      <T x={236} y={7} left>b.</T>
      <T x={459} y={7} left>c.</T>
      <T x={1} y={258} left>d.</T>
      <T x={236} y={258} left>e.</T>
      <T x={460} y={258} left>f.</T>

      {/* titles */}
      <T x={373} y={18.5}>QUASARR−seq</T>
      <T x={148} y={269.5}>SOLARR−seq</T>
      <T x={373} y={271.5}>SOLARR−seq</T>

      {/* statistics */}
      <T x={83} y={44} size={10} left><Stat r="0.9" /></T>
      <T x={306} y={44} size={10} left><Stat r="0.88" /></T>
      <T x={520} y={42} size={10} left><Stat r="0.16" /></T>
      <T x={82} y={299} size={10} left><i>R</i><span style={{ fontSize: '0.7em', position: 'relative', top: '-0.5em' }}>2</span> = 0.92</T>
      <T x={305} y={297} size={10} left><Stat r="0.88" /></T>
      <T x={520} y={293.5} size={10} left><Stat r="0.31" /></T>

      {/* y axis titles */}
      <T x={17.5} y={107} rot>Reverse</T>
      <T x={41.5} y={107} rot>promoter activity <Log2 /></T>
      <T x={252} y={107} rot>Reverse</T>
      <T x={273.5} y={107} rot>enhancer activity <Log2 /></T>
      <T x={491} y={107} rot>Enhancer activity ori. dif.</T>
      <T x={46} y={358} rot>Replicate 2 <Log2 /></T>
      <T x={252} y={358} rot>Reverse</T>
      <T x={272.5} y={358} rot>enhancer activity <Log2 /></T>
      <T x={477} y={356} rot>SOLARR−seq</T>
      <T x={490.5} y={356} rot>enhancer activity ori. dif.</T>

      {/* x axis titles */}
      <T x={148.5} y={204.5}>Forward</T>
      <T x={148.5} y={229.5}>promoter activity <Log2 /></T>
      <T x={373} y={204.5}>Forward</T>
      <T x={373} y={229.5}>enhancer activity <Log2 /></T>
      <T x={586.5} y={205}>Promoter activity ori. dif.</T>
      <T x={148.5} y={458.5}>Replicate 1 <Log2 /></T>
      <T x={373.5} y={457.5}>Forward</T>
      <T x={373.5} y={479}>enhancer activity <Log2 /></T>
      <T x={586.5} y={457.5}>QUASARR−seq</T>
      <T x={586.5} y={471.5}>enhancer activity ori. dif.</T>
    </div>
  );
}
